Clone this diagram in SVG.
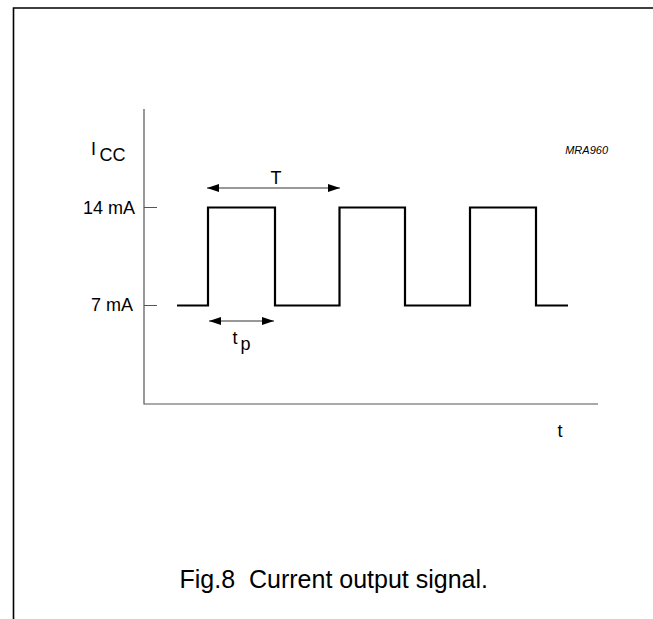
<svg xmlns="http://www.w3.org/2000/svg" width="653" height="619" viewBox="0 0 653 619">
<style>
text{font-family:"Liberation Sans",Arial,sans-serif;fill:#000}
.lbl{font-size:18px}
.axis{stroke:#555;stroke-width:1.2;fill:none}
.wave{stroke:#000;stroke-width:2.2;fill:none}
.dim{stroke:#333;stroke-width:1;fill:none}
</style>
<defs>
<marker id="ah" markerWidth="12" markerHeight="8" refX="12" refY="4" orient="auto-start-reverse" markerUnits="userSpaceOnUse">
<path d="M0,0 L12,4 L0,8 Z" fill="#000"/>
</marker>
</defs>
<rect width="653" height="619" fill="#fff"/>
<path d="M13.5,619 V8 H653" fill="none" stroke="#000" stroke-width="1.6"/>
<g id="axes">
<path class="axis" d="M144,109 V404 H598"/>
<path class="axis" d="M144,207.5 H157 M144,305.5 H157"/>
</g>
<g id="connectors">
<path class="wave" d="M177,305.5 H208 V207.5 H275 V305.5 H339.5 V207.5 H405 V305.5 H470 V207.5 H536 V305.5 H568"/>
<line class="dim" x1="207" y1="188" x2="340" y2="188" marker-start="url(#ah)" marker-end="url(#ah)"/>
<line class="dim" x1="209" y1="321" x2="274" y2="321" marker-start="url(#ah)" marker-end="url(#ah)"/>
</g>
<g id="labels">
<text class="lbl" x="91" y="154.5">I</text>
<text class="lbl" x="99.5" y="161">CC</text>
<text class="lbl" x="135" y="213.5" text-anchor="end">14 mA</text>
<text class="lbl" x="133" y="311" text-anchor="end">7 mA</text>
<text class="lbl" x="276" y="184" text-anchor="middle">T</text>
<text class="lbl" x="232.5" y="344">t</text>
<text class="lbl" x="240.5" y="350">p</text>
<text class="lbl" x="557.5" y="437">t</text>
<text x="608" y="154" font-size="11" font-style="italic" text-anchor="end">MRA960</text>
<text x="179.5" y="588" font-size="25" xml:space="preserve">Fig.8  Current output signal.</text>
</g>
</svg>
